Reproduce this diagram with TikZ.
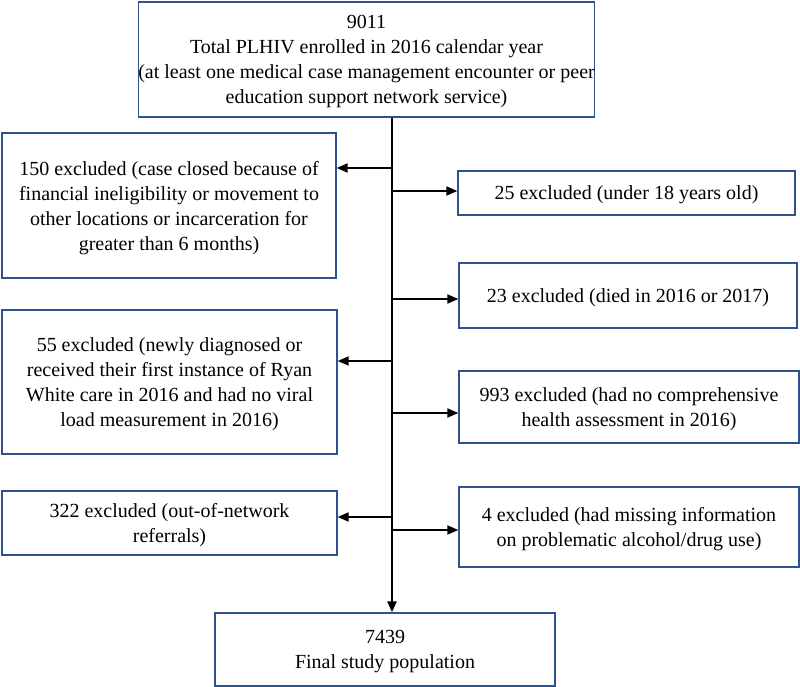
\documentclass[tikz,border=0pt]{standalone}
\usepackage{fontspec}
\setmainfont{Liberation Serif}
\usetikzlibrary{arrows.meta}
\definecolor{boxblue}{HTML}{2F528F}
\tikzset{
  x=1pt,y=-1pt,
  fbox/.style={draw=boxblue,line width=1.3pt,fill=white,align=center,
    font=\fontsize{20}{25}\selectfont,inner sep=0pt,
    text depth=0pt},
  spine/.style={line width=2.6pt,-{Triangle[length=11pt,width=9pt]}},
  branch/.style={line width=1.8pt,-{Triangle[length=11pt,width=9pt]}}
}
\newcommand{\bx}[6]{% name, x1,y1,x2,y2,text
  \node[fbox,minimum width={#4-#2},minimum height={#5-#3}] (#1) at ({(#2+#4)/2},{(#3+#5)/2}) {#6};}
\begin{document}
\begin{tikzpicture}
\useasboundingbox[fill=white] (0,0) rectangle (800,687);
\bx{top}{148}{2}{585}{117}{9011\\Total PLHIV enrolled in 2016 calendar year\\(at least one medical case management encounter or peer\\education support network service)}
\bx{b150}{2}{133}{336}{278}{150 excluded (case closed because of\\financial ineligibility or movement to\\other locations or incarceration for\\greater than 6 months)}
\bx{b25}{458}{171}{795}{215}{25 excluded (under 18 years old)}
\bx{b23}{459}{263}{797}{328}{23 excluded (died in 2016 or 2017)}
\bx{b55}{2}{310}{337}{454}{55 excluded (newly diagnosed or\\received their first instance of Ryan\\White care in 2016 and had no viral\\load measurement in 2016)}
\bx{b993}{459}{371}{799}{443}{993 excluded (had no comprehensive\\health assessment in 2016)}
\bx{b322}{2}{491}{337}{555}{322 excluded (out-of-network\\referrals)}
\bx{b4}{459}{487}{799}{567}{4 excluded (had missing information\\on problematic alcohol/drug use)}
\bx{fin}{215}{613}{555}{686}{7439\\Final study population}
\coordinate (sx) at (392,0);
\coordinate (a150) at (392,168);
\coordinate (a25) at (392,191);
\coordinate (a23) at (392,299);
\coordinate (a55) at (392,361);
\coordinate (a993) at (392,413);
\coordinate (a322) at (392,517);
\coordinate (a4) at (392,530);
\draw[spine] (top.south -| sx) -- (fin.north -| sx);
\draw[branch] (a150) -- (a150 -| b150.east);
\draw[branch] (a25) -- (a25 -| b25.west);
\draw[branch] (a23) -- (a23 -| b23.west);
\draw[branch] (a55) -- (a55 -| b55.east);
\draw[branch] (a993) -- (a993 -| b993.west);
\draw[branch] (a322) -- (a322 -| b322.east);
\draw[branch] (a4) -- (a4 -| b4.west);
\end{tikzpicture}
\end{document}
